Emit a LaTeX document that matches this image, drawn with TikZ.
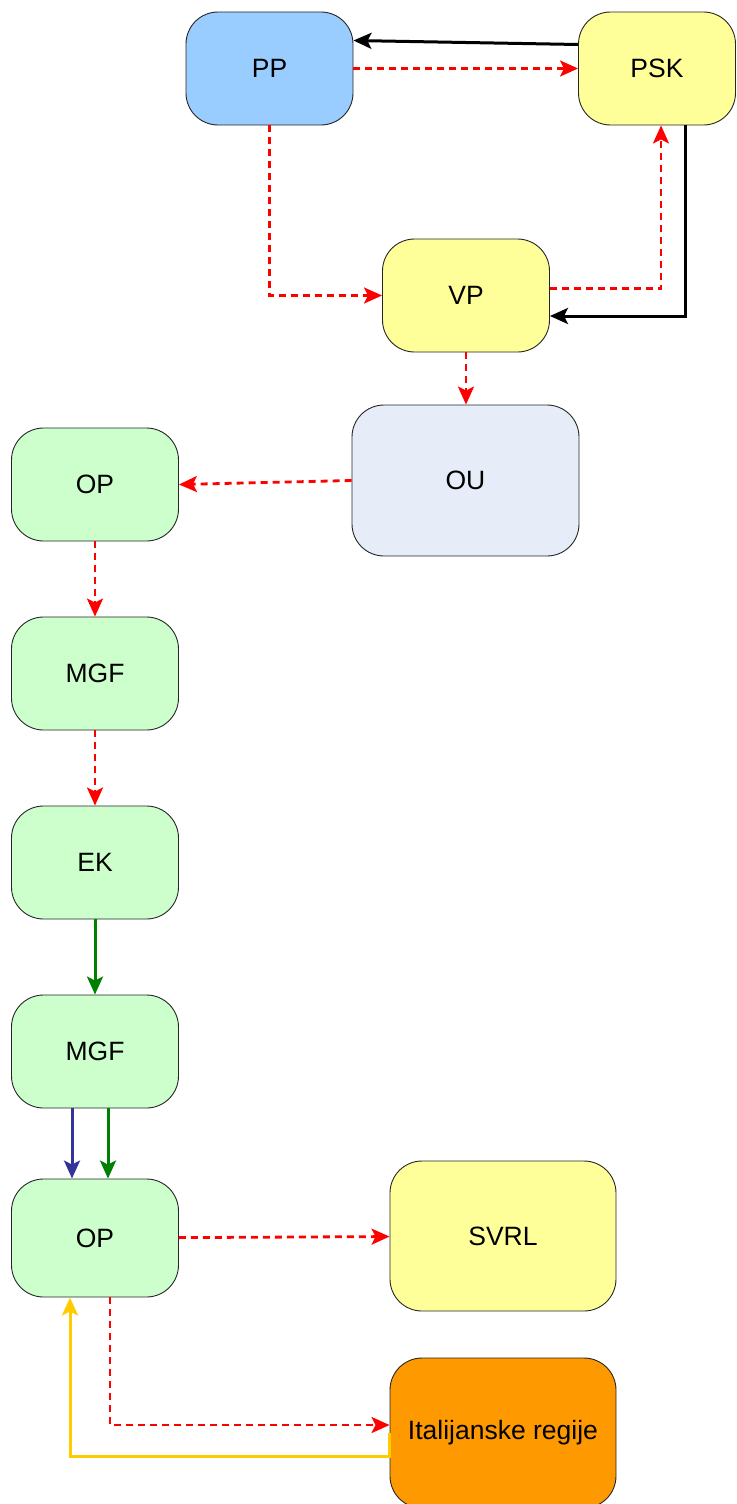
\documentclass[tikz,border=0pt]{standalone}
\usepackage{fontspec}
\setmainfont{Liberation Sans}
\usetikzlibrary{arrows.meta}
\definecolor{ppblue}{HTML}{99CCFF}
\definecolor{pskyellow}{HTML}{FFFF99}
\definecolor{ougrey}{HTML}{E6EDF8}
\definecolor{opgreen}{HTML}{CCFFCC}
\definecolor{regorange}{HTML}{FF9900}
\definecolor{linkblue}{HTML}{333399}
\definecolor{linkgreen}{HTML}{008000}
\definecolor{linkyellow}{HTML}{FFCC00}
\tikzset{
  box/.style = {draw = black!85, line width = 0.9pt, rounded corners = 32pt,
    minimum width = 167pt, minimum height = 113pt, inner sep = 0pt,
    font = \fontsize{26.5}{30}\selectfont},
  flow/.style = {red, line width = 2.8pt, dash pattern = on 7pt off 5pt,
    -{Stealth[length = 18pt, width = 16pt, inset = 4pt]}},
  link/.style = {line width = 3pt,
    -{Stealth[length = 18pt, width = 16pt, inset = 4pt]}}
}
\begin{document}
\begin{tikzpicture}[x = 1pt, y = -1pt]
            \useasboundingbox (0,0) rectangle (736,1504);
            \node[box, fill = ppblue] (pp) at (269.5,68.5) {PP};
            \node[box, fill = pskyellow, minimum width = 157pt] (psk) at (657,68.5) {PSK};
            \node[box, fill = pskyellow] (vp) at (466,295.5) {VP};
            \node[box, fill = ougrey, minimum width = 227pt, minimum height = 151pt] (ou) at (465.5,480.5) {OU};
            \node[box, fill = opgreen] (op) at (95,484.5) {OP};
            \node[box, fill = opgreen] (mgf) at (95,673.5) {MGF};
            \node[box, fill = opgreen] (ek) at (95,862.5) {EK};
            \node[box, fill = opgreen] (mgfb) at (95,1051.5) {MGF};
            \node[box, fill = opgreen, minimum height = 118pt] (opb) at (95,1238) {OP};
            \node[box, fill = pskyellow, minimum width = 226pt, minimum height = 150pt] (svrl) at (503,1236) {SVRL};
            \node[box, fill = regorange, minimum width = 226pt, minimum height = 150pt] (reg) at (503,1433) {Italijanske regije};
            % top loop
            \draw[link] ([yshift = 24pt]psk.west) -- ([yshift = 28pt]pp.east);
            \draw[flow] (pp) -- (psk);
            \draw[flow] (pp.south) |- (vp.west);
            \draw[flow] ([yshift = 7pt]vp.east) -| ([xshift = 4pt]psk.south);
            \draw[link] ([xshift = 28pt]psk.south) |- ([yshift = -20.5pt]vp.east);
            \draw[flow] (vp.south) -- (vp.south |- ou.north);
            \draw[flow] (ou.west) -- (op.east);
            % left column
            \draw[flow] (op) -- (mgf);
            \draw[flow] (mgf) -- (ek);
            \draw[link, linkgreen] (ek) -- (mgfb);
            \draw[link, linkblue] ([xshift = -23pt]mgfb.south) -- ([xshift = -23pt]opb.north);
            \draw[link, linkgreen] ([xshift = 13pt]mgfb.south) -- ([xshift = 13pt]opb.north);
            % bottom
            \draw[flow] (opb) -- (svrl);
            \draw[flow] ([xshift = 15pt]opb.south) |- ([yshift = 8pt]reg.west);
            \draw[link, linkyellow] (reg.west) -- ++(0,23) -| ([xshift = -25pt]opb.south);
        \end{tikzpicture}
\end{document}
